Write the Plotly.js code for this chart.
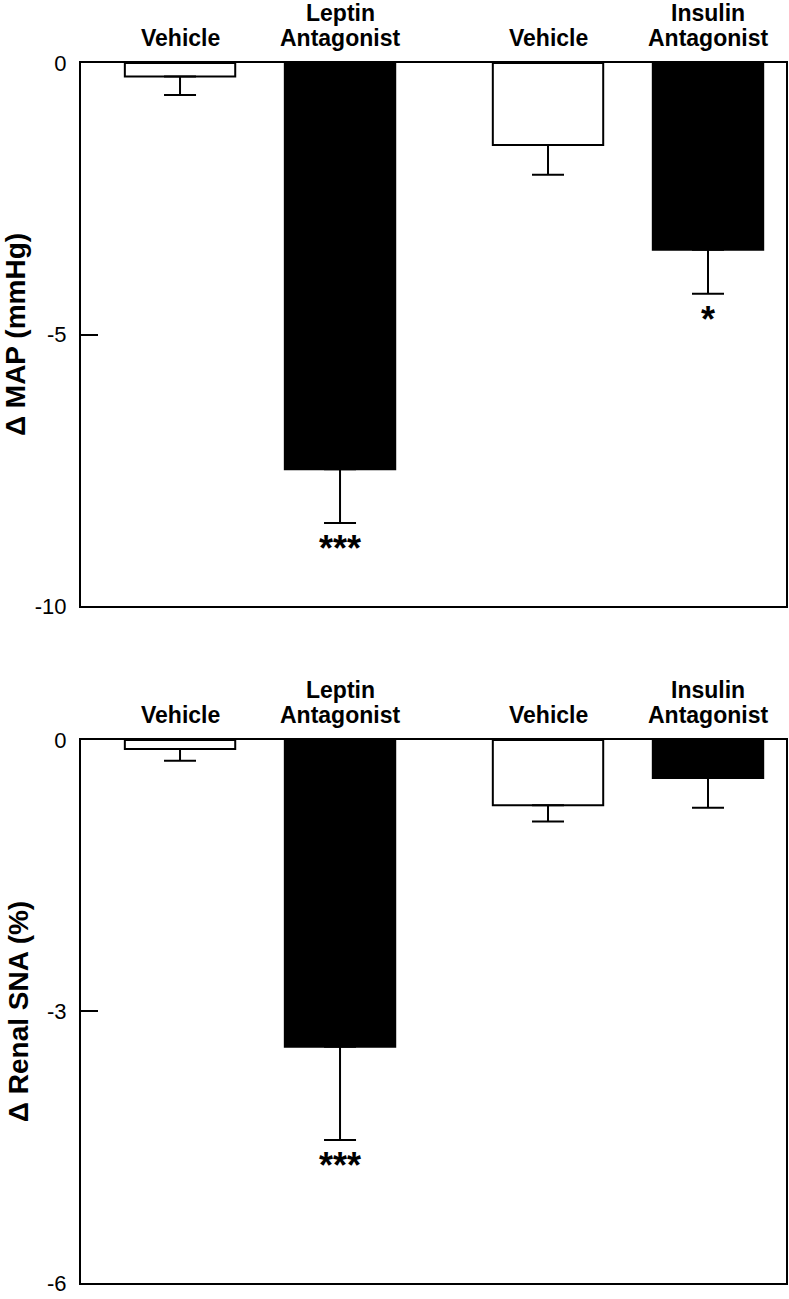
<!DOCTYPE html>
<html>
<head>
<meta charset="utf-8">
<script src="https://cdn.plot.ly/plotly-3.0.1.min.js"></script>
<style>
  html, body { margin: 0; padding: 0; background: #fff; }
  #chart { width: 789px; height: 1299px; }
</style>
</head>
<body>
<div id="chart"></div>
<script>
// ---- data ----
const categories = ["Vehicle", "Leptin<br>Antagonist", "Vehicle", "Insulin<br>Antagonist"];
const groupIndex = [0, 0, 1, 1];
const fills = ["#ffffff", "#000000", "#ffffff", "#000000"];
const mapValues = [-0.25, -7.48, -1.51, -3.44];
const mapErrors = [0.34, 0.99, 0.55, 0.81];
const mapSig = ["", "***", "", "*"];
const mapTicks = [0, -5, -10];
const snaValues = [-0.10, -3.39, -0.72, -0.42];
const snaErrors = [0.13, 1.03, 0.18, 0.33];
const snaSig = ["", "***", "", ""];
const snaTicks = [0, -3, -6];

// ---- layout helpers ----
const groupGap = 1.3;
const xPos = categories.map((c, i) => 1 + i + groupIndex[i] * (groupGap - 1));
const xRange = [0.381, 4.7875];
const FONT = "Arial, 'Liberation Sans', Helvetica, sans-serif";

function barTrace(vals, errs, xa, ya) {
  return {
    type: "bar",
    x: xPos, y: vals,
    xaxis: xa, yaxis: ya,
    width: 0.69,
    marker: { color: fills, line: { color: "#000", width: 2 } },
    error_y: { type: "data", symmetric: false, array: vals.map(() => 0), arrayminus: errs,
               color: "#000", thickness: 2, width: 16 },
    hoverinfo: "skip",
    showlegend: false
  };
}

const data = [
  barTrace(mapValues, mapErrors, "x", "y"),
  barTrace(snaValues, snaErrors, "x2", "y2")
];

const annotations = [];
function addAnnots(vals, errs, sig, xref, yref) {
  categories.forEach((c, i) => {
    const lines = c.split("<br>");
    lines.forEach((ln, j) => {
      annotations.push({
        x: xPos[i], xref: xref, y: 1, yref: yref + " domain",
        text: "<b>" + ln + "</b>", showarrow: false,
        yanchor: "bottom", yshift: 10 + (lines.length - 1 - j) * 25,
        font: { family: FONT, size: 23, color: "#000" }
      });
    });
    if (sig[i]) {
      annotations.push({
        x: xPos[i], xref: xref, y: vals[i] - errs[i], yref: yref,
        text: "<b>" + sig[i] + "</b>", showarrow: false,
        yanchor: "top", yshift: -3,
        font: { family: FONT, size: 36, color: "#000" }
      });
    }
  });
}
addAnnots(mapValues, mapErrors, mapSig, "x", "y");
addAnnots(snaValues, snaErrors, snaSig, "x2", "y2");

function yAxis(ticks, range, domain, title, anchor) {
  return {
    domain: domain, range: range, anchor: anchor,
    tickvals: ticks, ticktext: ticks.map(String),
    ticks: "inside", ticklen: 17, tickwidth: 2, tickcolor: "#000",
    showline: true, linewidth: 2, linecolor: "#000", mirror: true,
    showgrid: false, zeroline: false,
    tickfont: { family: FONT, size: 22, color: "#000" },
    ticklabelstandoff: 8,
    title: { text: "<b>" + title + "</b>", standoff: 10,
             font: { family: FONT, size: 28, color: "#000" } },
    fixedrange: true
  };
}
function xAxis(anchor) {
  return {
    range: xRange, anchor: anchor,
    showticklabels: false, ticks: "",
    showline: true, linewidth: 2, linecolor: "#000", mirror: true,
    showgrid: false, zeroline: false, fixedrange: true
  };
}

const layout = {
  width: 789, height: 1299,
  margin: { l: 81, r: 3, t: 63, b: 16 },
  paper_bgcolor: "#fff", plot_bgcolor: "#fff",
  font: { family: FONT, color: "#000" },
  xaxis: xAxis("y"),
  yaxis: yAxis(mapTicks, [-10, 0], [0.5549, 1], "Δ MAP (mmHg)", "x"),
  xaxis2: xAxis("y2"),
  yaxis2: yAxis(snaTicks, [-6, 0], [0, 0.4451], "Δ Renal SNA (%)", "x2"),
  annotations: annotations,
  bargap: 0
};

Plotly.newPlot("chart", data, layout, { displayModeBar: false, staticPlot: true });
</script>
</body>
</html>
